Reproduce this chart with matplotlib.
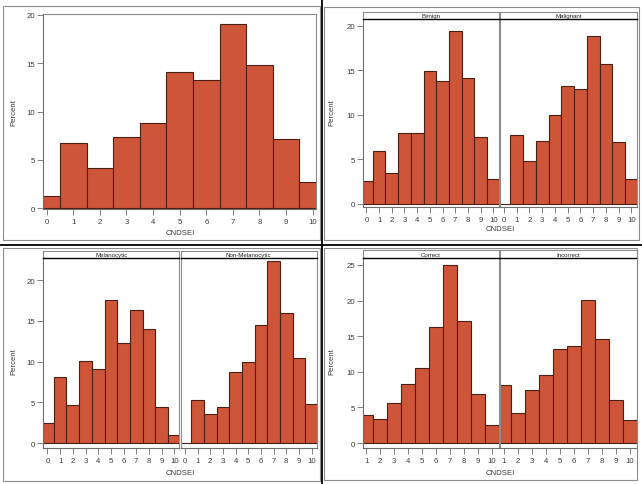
import numpy as np
import matplotlib
matplotlib.use('Agg')
import matplotlib.pyplot as plt
from matplotlib.lines import Line2D
from matplotlib.patches import Rectangle

plt.rcParams['font.family'] = ['Liberation Sans', 'DejaVu Sans']

# CNDSEI score bins and percent per bin
bins_0_10 = list(range(0, 11))
bins_1_10 = list(range(1, 11))

overall = [1.25, 6.75, 4.15, 7.35, 8.85, 14.05, 13.3, 19.05, 14.85, 7.15, 2.75]
benign = [2.6, 5.9, 3.4, 7.9, 7.9, 14.9, 13.8, 19.35, 14.1, 7.5, 2.75]
malignant = [0, 7.7, 4.85, 7.05, 10.0, 13.2, 12.9, 18.8, 15.7, 6.9, 2.75]
melanocytic = [2.45, 8.1, 4.7, 10.1, 9.1, 17.6, 12.3, 16.3, 14.0, 4.4, 1.0]
non_melanocytic = [0, 5.3, 3.55, 4.4, 8.7, 9.9, 14.55, 22.35, 16.0, 10.45, 4.8]
correct = [4.0, 3.35, 5.6, 8.35, 10.55, 16.35, 25.05, 17.2, 6.95, 2.55]
incorrect = [8.1, 4.25, 7.5, 9.5, 13.2, 13.6, 20.1, 14.6, 6.0, 3.2]

W, H = 642, 485
FILL = '#CF5538'
EDGE = '#4a2015'
FRAME = '#8c8c8c'
AXIS = '#6e6e6e'
TXT = '#3c3c3c'
FS = 5.6

fig = plt.figure(figsize=(W / 100, H / 100), dpi=100)


def px_axes(l, t, r, b):
    return fig.add_axes([l / W, 1 - b / H, (r - l) / W, (b - t) / H])


def fig_line(x0, y0, x1, y1, color, lw):
    fig.add_artist(Line2D([x0 / W, x1 / W], [1 - y0 / H, 1 - y1 / H],
                          transform=fig.transFigure, color=color, lw=lw))


def label(x, y, s, rot=0):
    fig.text(x / W, 1 - y / H, s, rotation=rot, ha='center', va='center',
             fontsize=FS, color=TXT)


def panel(box, x, vals, xlim, ylim, yticks, show_y, header=None, htop=None):
    l, t, r, b = box
    ax = px_axes(l, t, r, b)
    ax.bar(x, vals, width=1.0, color=FILL, edgecolor=EDGE, linewidth=0.8)
    ax.set_xlim(*xlim)
    ax.set_ylim(*ylim)
    ax.set_xticks(x)
    ax.set_yticks(yticks)
    ax.tick_params(direction='out', length=4.5, width=0.6, colors=AXIS,
                   labelcolor=TXT, labelsize=FS)
    ax.tick_params(axis='x', pad=2.3)
    ax.tick_params(axis='y', pad=1.2)
    if not show_y:
        ax.tick_params(axis='y', left=False, labelleft=False)
    for side in ['left', 'bottom']:
        ax.spines[side].set_color(AXIS)
        ax.spines[side].set_linewidth(0.8)
    for side in ['top', 'right']:
        ax.spines[side].set_color(FRAME)
        ax.spines[side].set_linewidth(0.8)
    if not show_y:
        ax.spines['left'].set_color(FRAME)
    if header is not None:
        hax = px_axes(l, htop, r, t)
        hax.set_xticks([])
        hax.set_yticks([])
        for side in ['left', 'right', 'top']:
            hax.spines[side].set_color(FRAME)
            hax.spines[side].set_linewidth(0.8)
        hax.spines['bottom'].set_color('black')
        hax.spines['bottom'].set_linewidth(1.0)
        hax.text(0.5, 0.5, header, ha='center', va='center', fontsize=4.4,
                 color='#222222', transform=hax.transAxes)
        ax.spines['top'].set_visible(False)
    return ax


# top-left: all lesions
panel((43.3, 14.7, 316, 209.5), bins_0_10, overall, (-0.125, 10.125),
      (-0.02, 20.13), [0, 5, 10, 15, 20], True)
label(14, 113, 'Percent', 90)
label(180, 233.5, 'CNDSEI')

# top-right: benign / malignant
panel((362.7, 20, 498.7, 208), bins_0_10, benign, (-0.29, 10.42),
      (-0.37, 20.75), [0, 5, 10, 15, 20], True, 'Benign', 12.5)
panel((500.3, 20, 636.7, 208), bins_0_10, malignant, (-0.29, 10.42),
      (-0.37, 20.75), [0, 5, 10, 15, 20], False, 'Malignant', 12.5)
label(332, 113, 'Percent', 90)
label(500, 229.5, 'CNDSEI')

# bottom-left: melanocytic / non-melanocytic
panel((43.3, 259.3, 179.3, 449), bins_0_10, melanocytic, (-0.33, 10.4),
      (-0.61, 22.7), [0, 5, 10, 15, 20], True, 'Melanocytic', 252)
panel((180.7, 259.3, 316.7, 449), bins_0_10, non_melanocytic, (-0.33, 10.4),
      (-0.61, 22.7), [0, 5, 10, 15, 20], False, 'Non-Melanocytic', 252)
label(13.5, 362, 'Percent', 90)
label(180, 474, 'CNDSEI')

# bottom-right: correct / incorrect
panel((362.7, 259.3, 498.7, 449), bins_1_10, correct, (0.74, 10.48),
      (-0.7, 25.94), [0, 5, 10, 15, 20, 25], True, 'Correct', 251)
panel((500.3, 259.3, 636.7, 449), bins_1_10, incorrect, (0.74, 10.48),
      (-0.7, 25.94), [0, 5, 10, 15, 20, 25], False, 'Incorrect', 251)
label(332, 362, 'Percent', 90)
label(500, 474, 'CNDSEI')

# quadrant frames and dividing lines
for (l, t, r, b) in [(3, 7.3, 320, 241), (324, 8.3, 639, 241), (3, 249, 320, 482), (324, 249, 637, 481)]:
    fig.add_artist(Rectangle((l / W, 1 - b / H), (r - l) / W, (b - t) / H,
                             transform=fig.transFigure, fill=False, ec=FRAME, lw=0.8))
fig_line(322.3, 0, 322.3, H, 'black', 1.3)
fig_line(0, 245.5, W, 245.5, 'black', 1.3)

fig.savefig('out.png', dpi=100)
